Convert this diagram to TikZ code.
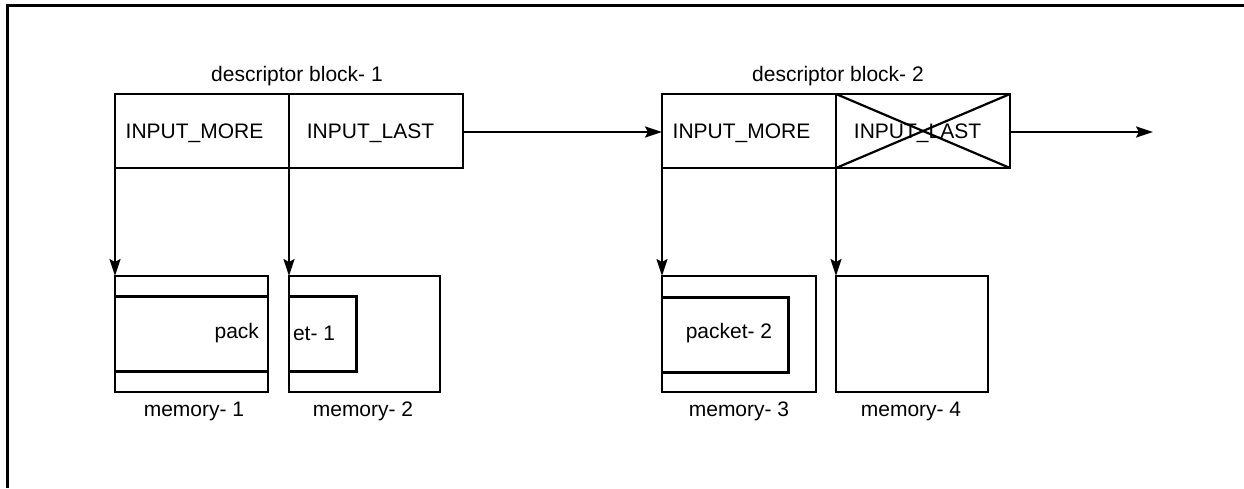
\documentclass[tikz,border=0pt]{standalone}
\usepackage{fontspec}
\setmainfont{Liberation Sans}
\usetikzlibrary{arrows.meta}
\begin{document}
\begin{tikzpicture}[x=1pt,y=-1pt,
  every node/.style={font=\fontsize{21}{25}\selectfont, inner sep=0pt, outer sep=0pt},
  cell/.style={draw, line width=2.6pt, rectangle, minimum height=74pt, minimum width=174pt},
  mem/.style={draw, line width=2.4pt, rectangle, minimum height=116pt},
  pkt/.style={line width=3pt},
  link/.style={line width=2pt, -{Stealth[length=17pt,width=11pt,inset=3pt]}},
  txt/.style={anchor=center}
]
\useasboundingbox (0,0) rectangle (1244,488);
% frame
\draw[line width=3pt] (7,488) -- (7,5) -- (1244,5);

% descriptor block 1
\node[cell] (d1a) at (202,131) {};
\node[cell] (d1b) at (376,131) {};
\node[txt] (t1a) at (194.5,133) {INPUT\_MORE};
\node[txt] (t1b) at (370.5,133) {INPUT\_LAST};
\node[txt] (h1) at (297,76) {descriptor block- 1};

% descriptor block 2
\node[cell] (d2a) at (749,131) {};
\node[cell] (d2b) at (923,131) {};
\node[txt] (t2a) at (741.5,133) {INPUT\_MORE};
\node[txt] (t2b) at (917.5,133) {INPUT\_LAST};
\node[txt] (h2) at (838,76) {descriptor block- 2};
\draw[line width=2.2pt] (d2b.north west) -- (d2b.south east);
\draw[line width=2.2pt] (d2b.south west) -- (d2b.north east);

% chain arrows
\coordinate (endc) at (1153,132);
\draw[link] (d1b.east |- 0,132) -- (d2a.west |- 0,132);
\draw[link] (d2b.east |- 0,132) -- (endc);

% memory boxes
\node[mem, minimum width=153pt] (m1) at (191.5,334) {};
\node[mem, minimum width=151pt] (m2) at (364.5,334) {};
\node[mem, minimum width=154pt] (m3) at (739,334) {};
\node[mem, minimum width=152pt] (m4) at (912,334) {};

% pointers
\draw[link] (d1a.south west) -- (m1.north west);
\draw[link] (d1a.south east) -- (m2.north west);
\draw[link] (d2a.south west) -- (m3.north west);
\draw[link] (d2a.south east) -- (m4.north west);

% packet 1 across memory-1 and memory-2
\draw[pkt] ([yshift=-20pt]m1.north west) -- ([yshift=-20pt]m1.north east);
\draw[pkt] ([yshift=21pt]m1.south west) -- ([yshift=21pt]m1.south east);
\draw[pkt] ([yshift=-20pt]m2.north west) -- ++(67,0) -- ++(0,75) -- ++(-67,0);
\node[txt, anchor=east] (p1a) at (259,333) {pack};
\node[txt, anchor=west] (p1b) at (293,333) {et- 1};

% packet 2 in memory-3
\draw[pkt] ([yshift=-21pt]m3.north west) -- ++(126,0) -- ++(0,75) -- ++(-126,0);
\node[txt] (p2) at (729,333) {packet- 2};

% memory labels
\node[txt] (l1) at (194,411) {memory- 1};
\node[txt] (l2) at (363,411) {memory- 2};
\node[txt] (l3) at (739,411) {memory- 3};
\node[txt] (l4) at (911,411) {memory- 4};
\end{tikzpicture}
\end{document}
